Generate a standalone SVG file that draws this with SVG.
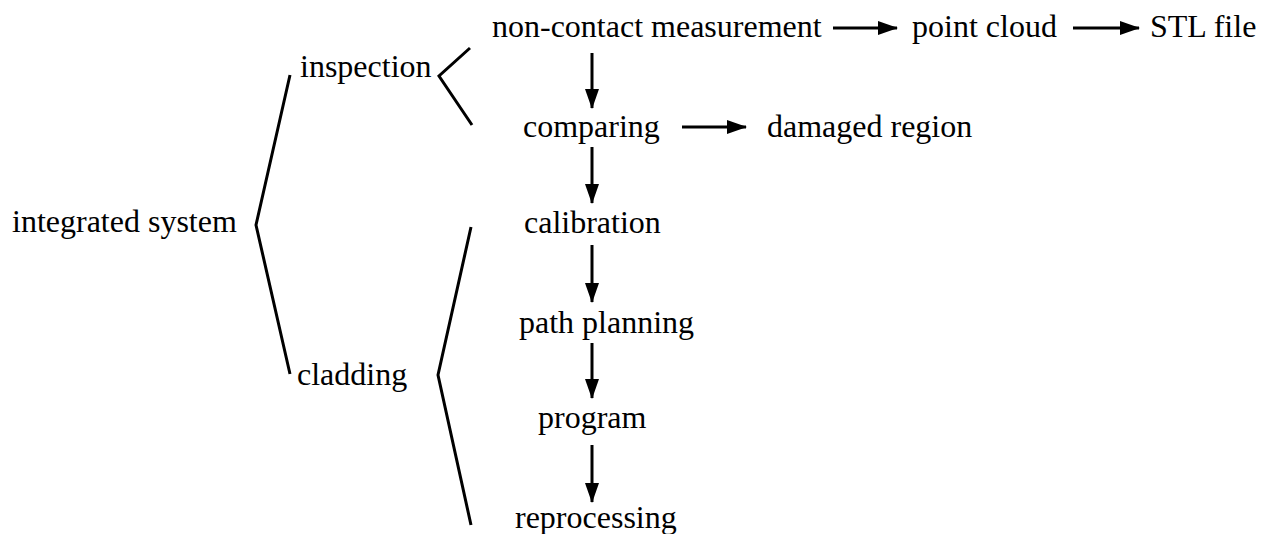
<svg xmlns="http://www.w3.org/2000/svg" width="1269" height="534" viewBox="0 0 1269 534">
<style>
.t{font-family:'Liberation Serif',serif;font-size:32px;fill:#000}
.br{fill:none;stroke:#000;stroke-width:3;stroke-linejoin:miter}
.ar{stroke:#000;stroke-width:3;fill:none}
</style>
<defs>
<marker id="ah" markerWidth="20" markerHeight="14" refX="19" refY="7" orient="auto" markerUnits="userSpaceOnUse">
<path d="M0,0 L20,7 L0,14 Z" fill="#000"/>
</marker>
</defs>
<rect width="1269" height="534" fill="#fff"/>
<g font-family="Liberation Serif, serif" font-size="32">
<g id="n-integrated"><text class="t" x="12" y="232">integrated system</text></g>
<g id="n-inspection"><text class="t" x="300" y="77">inspection</text></g>
<g id="n-cladding"><text class="t" x="297" y="385">cladding</text></g>
<g id="n-noncontact"><text class="t" x="492" y="37">non-contact measurement</text></g>
<g id="n-pointcloud"><text class="t" x="912" y="37">point cloud</text></g>
<g id="n-stl"><text class="t" x="1150" y="37">STL file</text></g>
<g id="n-comparing"><text class="t" x="523" y="137">comparing</text></g>
<g id="n-damaged"><text class="t" x="767" y="137">damaged region</text></g>
<g id="n-calibration"><text class="t" x="524" y="233">calibration</text></g>
<g id="n-path"><text class="t" x="519" y="333">path planning</text></g>
<g id="n-program"><text class="t" x="538" y="428">program</text></g>
<g id="n-reprocessing"><text class="t" x="515" y="528">reprocessing</text></g>
</g>
<g id="connectors">
<polyline class="br" points="290,75 256,225 290,374"/>
<polyline class="br" points="470,48 439,76 472,125"/>
<polyline class="br" points="471,227 438,375 471,525"/>
<line class="ar" x1="833" y1="28" x2="897" y2="28" marker-end="url(#ah)"/>
<line class="ar" x1="1073" y1="28" x2="1139" y2="28" marker-end="url(#ah)"/>
<line class="ar" x1="682" y1="127" x2="746" y2="127" marker-end="url(#ah)"/>
<line class="ar" x1="592" y1="53" x2="592" y2="108" marker-end="url(#ah)"/>
<line class="ar" x1="592" y1="147" x2="592" y2="203" marker-end="url(#ah)"/>
<line class="ar" x1="592" y1="245" x2="592" y2="302" marker-end="url(#ah)"/>
<line class="ar" x1="592" y1="343" x2="592" y2="398" marker-end="url(#ah)"/>
<line class="ar" x1="592" y1="445" x2="592" y2="502" marker-end="url(#ah)"/>
</g>
</svg>
